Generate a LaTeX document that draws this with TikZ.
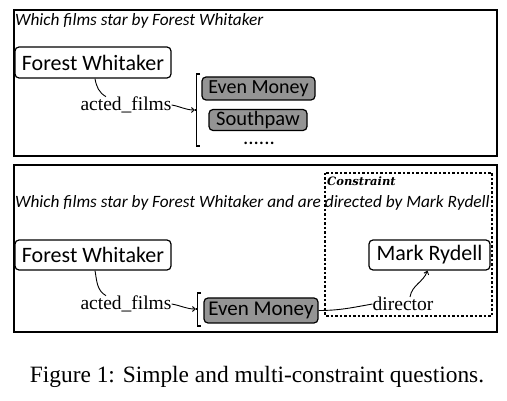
\documentclass[tikz,border=0pt]{standalone}
\usepackage{fontspec}
\setmainfont{Liberation Serif}
\newfontfamily\calfont{Carlito}
\newfontfamily\consfont{DejaVu Serif}
\usetikzlibrary{arrows.meta}
\begin{document}
\begin{tikzpicture}[x=1pt,y=-1pt,
  frame/.style={draw,line width=1.3pt},
  ent/.style={draw,line width=1.2pt,rounded corners=4pt,inner sep=0pt,font=\calfont\fontsize{22}{24}\selectfont},
  ans/.style={draw,fill=black!42,line width=1.2pt,rounded corners=4pt,inner sep=0pt},
  rel/.style={inner sep=0pt,font=\fontsize{19.5}{21}\selectfont},
  quest/.style={inner sep=0pt,anchor=west,font=\calfont\itshape\fontsize{17.3}{19}\selectfont},
  conn/.style={line width=0.9pt},
  arr/.style={conn,-{Straight Barb[length=3pt,width=5pt]}},
  brk/.style={line width=1.3pt}]
\useasboundingbox (0,0) rectangle (507,401);
% ---------- top panel ----------
\draw[frame] (14,10) rectangle (497,156);
\node[quest] (q1) at (15,21) {Which films star by Forest Whitaker};
\node[ent,minimum width=156pt,minimum height=31pt] (fw1) at (93,62.5) {Forest Whitaker};
\node[rel] (af1) at (126,105) {acted\_films};
\node[ans,minimum width=113pt,minimum height=23pt,font=\calfont\fontsize{20}{22}\selectfont] (em1) at (258.5,88.5) {Even Money};
\node[ans,minimum width=98pt,minimum height=21pt,font=\calfont\fontsize{20.5}{22}\selectfont] (sp1) at (258,120) {Southpaw};
\node[inner sep=0pt,text height=2pt,text depth=0pt,anchor=base,font=\calfont\fontsize{21}{22}\selectfont] (dots1) at (259,144.5) {......};
\draw[brk] (200,74) -- (196.5,74) -- (196.5,146) -- (200,146);
\coordinate (b1) at (195,110);
\draw[brk] (196.5,110) -- (194.5,110);
\draw[conn] (fw1.south -| 95,0) to[out=-80,in=150] ([xshift=-20pt]af1.north);
\draw[arr] (af1.east) to[out=-10,in=180] (b1);
% ---------- bottom panel ----------
\draw[frame] (14,165) rectangle (497,332);
\draw[line width=1.3pt,dash pattern=on 2.5pt off 2pt] (325,173) rectangle (492,316);
\node[inner sep=0pt,anchor=west,font=\consfont\bfseries\itshape\fontsize{11.5}{13}\selectfont] (cons) at (327,181) {Constraint};
\node[quest] (q2) at (15,203) {Which films star by Forest Whitaker and are directed by Mark Rydell};
\node[ent,minimum width=156pt,minimum height=30pt] (fw2) at (93,255) {Forest Whitaker};
\node[ent,minimum width=121pt,minimum height=30pt] (mr) at (429.5,255) {Mark Rydell};
\node[rel] (af2) at (126,304) {acted\_films};
\node[ans,minimum width=114pt,minimum height=25pt,font=\calfont\fontsize{21}{23}\selectfont] (em2) at (261,310.5) {Even Money};
\node[rel] (dir) at (403,304) {director};
\draw[brk] (201,293) -- (197.5,293) -- (197.5,326) -- (201,326);
\draw[brk] (197.5,309) -- (195.5,309);
\coordinate (b2) at (196,309);
\draw[conn] (fw2.south -| 95,0) to[out=-80,in=150] ([xshift=-20pt]af2.north);
\draw[arr] (af2.east) to[out=-10,in=180] (b2);
\draw[conn] (em2.east) to[out=0,in=190] (dir.west);
\draw[arr] ([xshift=7pt]dir.north) to[out=80,in=-110] ([xshift=-2pt]mr.south);
% ---------- caption ----------
\node[inner sep=0pt,font=\fontsize{23.4}{26}\selectfont] (cap) at (257,377) {Figure 1: Simple and multi-constraint questions.};
\end{tikzpicture}
\end{document}
